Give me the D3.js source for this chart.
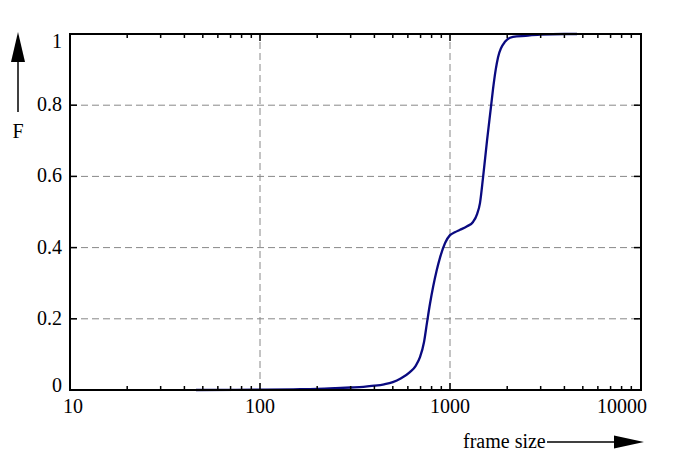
<!DOCTYPE html>
<html>
<head>
<meta charset="utf-8">
<script src="https://cdn.jsdelivr.net/npm/d3@7"></script>
<style>
  body { margin: 0; background: #fff; }
  text { font-family: "Liberation Serif", serif; font-size: 20px; fill: #000; }
</style>
</head>
<body>
<script>
// CDF of frame sizes
var frameSize = [46, 100, 150, 200, 250, 300, 350, 400, 450, 500, 550, 615, 660, 695, 730, 757, 785, 815, 850, 886, 942, 1000, 1060, 1129, 1230, 1322, 1390, 1438, 1493, 1567, 1645, 1684, 1740, 1790, 1946, 2146, 2500, 2976, 4000, 4660];
var F = [0, 0.001, 0.002, 0.003, 0.005, 0.007, 0.009, 0.012, 0.016, 0.022, 0.032, 0.05, 0.068, 0.092, 0.135, 0.19, 0.243, 0.29, 0.335, 0.372, 0.413, 0.435, 0.443, 0.45, 0.46, 0.472, 0.495, 0.525, 0.598, 0.702, 0.798, 0.845, 0.9, 0.935, 0.978, 0.992, 0.995, 0.998, 1.0, 1.0];

var xTicks = [10, 100, 1000, 10000];
var yTicks = [0, 0.2, 0.4, 0.6, 0.8, 1];
var xGrid = [100, 1000];
var yGrid = [0.2, 0.4, 0.6, 0.8];

var width = 693, height = 461;
var pLeft = 70, pRight = 641, pTop = 34, pBottom = 390;

var svg = d3.select("body")
      .append("svg")
      .attr("width", width)
      .attr("height", height)

var x = d3.scaleLog().domain([10, 10120]).range([pLeft, pRight]);
var y = d3.scaleLinear().domain([0, 1]).range([pBottom, pTop]);

// minor ticks 2..9 per decade
var minor = [];
[10, 100, 1000, 10000].forEach(function(d) {
  for (var k = 2; k <= 9; k++) {
    if (d * k <= x.domain()[1]) minor.push(d * k);
  }
});

// grid
svg.append("g").selectAll("line")
  .data(xGrid)
  .enter().append("line")
  .attr("x1", function(d){return x(d)})
  .attr("x2", function(d){return x(d)})
  .attr("y1", pBottom).attr("y2", pTop)
  .attr("stroke", "#888").attr("stroke-width", 1)
  .attr("stroke-dasharray", "7,4");

svg.append("g").selectAll("line")
  .data(yGrid)
  .enter().append("line")
  .attr("y1", function(d){return y(d)})
  .attr("y2", function(d){return y(d)})
  .attr("x1", pLeft).attr("x2", pRight)
  .attr("stroke", "#888").attr("stroke-width", 1)
  .attr("stroke-dasharray", "7,4");

// curve
var line = d3.line()
  .x(function(d){return x(d[0])})
  .y(function(d){return y(d[1])})
  .curve(d3.curveMonotoneX);

svg.append("path")
  .datum(d3.zip(frameSize, F))
  .attr("d", line)
  .attr("fill", "none")
  .attr("stroke", "#0a0a80")
  .attr("stroke-width", 2.3);

// ticks (inside, on all four sides)
var ticks = svg.append("g").attr("stroke", "#000").attr("stroke-width", 1.5);
function xTick(vals, len) {
  vals.forEach(function(d) {
    ticks.append("line").attr("x1", x(d)).attr("x2", x(d)).attr("y1", pBottom).attr("y2", pBottom - len);
    ticks.append("line").attr("x1", x(d)).attr("x2", x(d)).attr("y1", pTop).attr("y2", pTop + len);
  });
}
xTick(minor, 4);
xTick(xTicks.slice(1, 3), 7);
yTicks.forEach(function(d) {
  ticks.append("line").attr("y1", y(d)).attr("y2", y(d)).attr("x1", pLeft).attr("x2", pLeft + 7);
  ticks.append("line").attr("y1", y(d)).attr("y2", y(d)).attr("x1", pRight).attr("x2", pRight - 7);
});

// frame
svg.append("rect")
  .attr("x", pLeft).attr("y", pTop)
  .attr("width", pRight - pLeft).attr("height", pBottom - pTop)
  .attr("fill", "none").attr("stroke", "#000").attr("stroke-width", 2);

// x labels
svg.append("g").selectAll("text")
  .data(xTicks)
  .enter().append("text")
  .attr("x", function(d, i){ return x(d) + (i == 0 ? -7 : i == xTicks.length - 1 ? 7 : 0) })
  .attr("y", pBottom + 23)
  .attr("text-anchor", function(d, i){ return i == 0 ? "start" : i == xTicks.length - 1 ? "end" : "middle" })
  .text(function(d){ return d });

// y labels
svg.append("g").selectAll("text")
  .data(yTicks)
  .enter().append("text")
  .attr("x", pLeft - 8)
  .attr("y", function(d){ return y(d) + (d == 1 ? 14 : d == 0 ? 2 : 6) })
  .attr("text-anchor", "end")
  .text(function(d){ return d });

// axis arrows
svg.append("text").attr("x", 18).attr("y", 138).attr("text-anchor", "middle").text("F");
svg.append("line").attr("x1", 18).attr("x2", 18).attr("y1", 112).attr("y2", 55)
  .attr("stroke", "#000").attr("stroke-width", 1.5);
svg.append("path").attr("d", "M18,32 L11,62 L25,62 Z").attr("fill", "#000");

svg.append("text").attr("x", 463).attr("y", 448).text("frame size");
svg.append("line").attr("x1", 547).attr("x2", 620).attr("y1", 442).attr("y2", 442)
  .attr("stroke", "#000").attr("stroke-width", 1.5);
svg.append("path").attr("d", "M644,442 L614,435.5 L614,448.5 Z").attr("fill", "#000");
</script>
</body>
</html>
